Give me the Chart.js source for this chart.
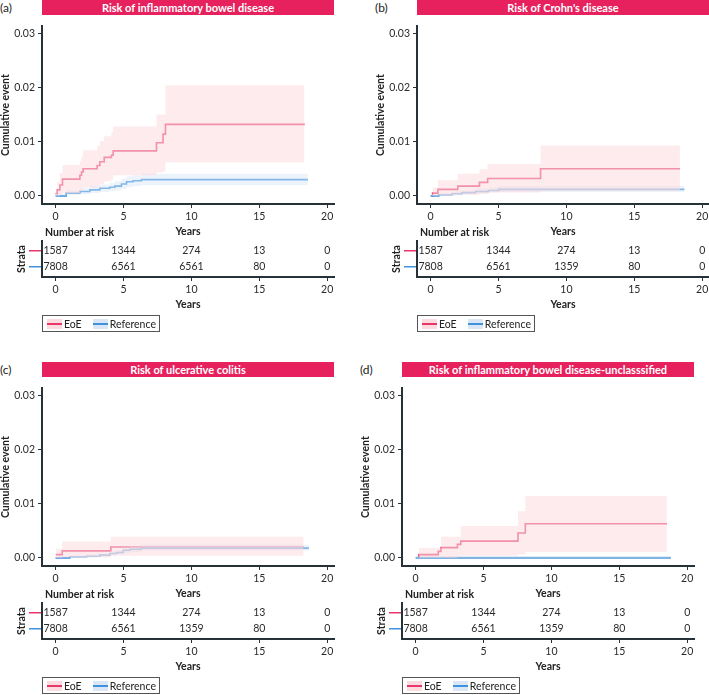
<!DOCTYPE html>
<html>
<head>
<meta charset="utf-8">
<script src="https://cdn.jsdelivr.net/npm/chart.js@4.4.1/dist/chart.umd.min.js"></script>
<style>
body{margin:0;background:#fff;font-family:Lato,sans-serif;}
#fig{position:relative;width:709px;height:695px;overflow:hidden;}
.tag{position:absolute;font-size:12px;line-height:15px;color:#222;}
.bar{position:absolute;width:292px;height:15px;line-height:15px;background:#e6215d;color:#fff;font-weight:bold;font-size:11px;text-align:center;white-space:nowrap;}
canvas{position:absolute;}
.nar{position:absolute;font-weight:bold;font-size:10.5px;line-height:12px;color:#222;}
.leg{position:absolute;height:15px;border:1px solid #555;display:flex;align-items:center;font-size:10.5px;color:#222;padding:0 3px 0 4px;white-space:nowrap;}
.sw{display:inline-block;width:15px;height:10px;margin-right:2px;}
</style>
</head>
<body>
<div id="fig"></div>
<script>
// shared axes / groups
const xTicks = [0, 5, 10, 15, 20];
const yTicks = [0, 0.01, 0.02, 0.03];
const groups = ['EoE', 'Reference'];
const riskTimes = [0, 5, 10, 15, 20];

// (a) inflammatory bowel disease
const ibdEoeT  = [0, 0.12, 0.32, 0.51, 1.79, 1.91, 2.03, 3.06, 3.26, 3.58, 4.11, 4.24, 7.43, 7.91, 8.09, 18.33];
const ibdEoeV  = [0.0004, 0.0011, 0.002, 0.0031, 0.0038, 0.0044, 0.005, 0.0056, 0.0063, 0.0071, 0.0075, 0.0083, 0.0098, 0.0114, 0.0132, 0.0132];
const ibdEoeLo = [0, 0, 0.0002, 0.0005, 0.0009, 0.0012, 0.0015, 0.0018, 0.0022, 0.0027, 0.003, 0.0038, 0.0043, 0.0045, 0.0062, 0.0062];
const ibdEoeHi = [0.0012, 0.0025, 0.0042, 0.0057, 0.0064, 0.0072, 0.0084, 0.0092, 0.0101, 0.011, 0.0118, 0.0128, 0.015, 0.015, 0.0204, 0.0204];
const ibdRefT  = [0, 0.78, 1.79, 2.52, 3.26, 3.99, 4.36, 4.85, 5.22, 5.7, 6.32, 18.57];
const ibdRefV  = [0, 0.0005, 0.0008, 0.0011, 0.0014, 0.0016, 0.0018, 0.0022, 0.0026, 0.0028, 0.003, 0.003];
const ibdRefLo = [0, 0.0001, 0.0003, 0.0005, 0.0007, 0.0009, 0.001, 0.0013, 0.0016, 0.0018, 0.002, 0.002];
const ibdRefHi = [0.0003, 0.001, 0.0014, 0.0018, 0.0021, 0.0024, 0.0027, 0.0032, 0.0036, 0.0038, 0.0041, 0.0041];
const ibdRiskEoe = [1587, 1344, 274, 13, 0];
const ibdRiskRef = [7808, 6561, 6561, 80, 0];

// (b) Crohn's disease
const cdEoeT  = [0.1, 0.15, 0.54, 2.0, 3.6, 4.2, 8.1, 18.36];
const cdEoeV  = [0, 0.0005, 0.0012, 0.0018, 0.0025, 0.0032, 0.005, 0.005];
const cdEoeLo = [0, 0, 0.0001, 0.0002, 0.0004, 0.0006, 0.0009, 0.0009];
const cdEoeHi = [0.0003, 0.0015, 0.0029, 0.0041, 0.0049, 0.0059, 0.0093, 0.0093];
const cdRefT  = [0, 0.6, 1.57, 2.3, 3.3, 4.26, 5.0, 18.68];
const cdRefV  = [0, 0.0002, 0.0004, 0.0006, 0.0008, 0.001, 0.0012, 0.0012];
const cdRefLo = [0, 0, 0.0001, 0.0003, 0.0004, 0.0006, 0.0007, 0.0007];
const cdRefHi = [0.0002, 0.0005, 0.0008, 0.001, 0.0013, 0.0015, 0.0018, 0.0018];
const cdRiskEoe = [1587, 1344, 274, 13, 0];
const cdRiskRef = [7808, 6561, 1359, 80, 0];

// (c) ulcerative colitis
const ucEoeT  = [0.02, 0.49, 4.07, 18.26];
const ucEoeV  = [0.0006, 0.0013, 0.002, 0.002];
const ucEoeLo = [0, 0.0001, 0.0004, 0.0004];
const ucEoeHi = [0.0017, 0.003, 0.0039, 0.0039];
const ucRefT  = [0, 1.05, 2.28, 3.26, 4.0, 4.49, 4.98, 5.47, 6.32, 18.65];
const ucRefV  = [0, 0.0002, 0.0003, 0.0005, 0.0008, 0.001, 0.0014, 0.0016, 0.0018, 0.0018];
const ucRefLo = [0, 0, 0.0001, 0.0002, 0.0004, 0.0006, 0.0009, 0.0011, 0.0013, 0.0013];
const ucRefHi = [0.0002, 0.0004, 0.0006, 0.0008, 0.0012, 0.0014, 0.0019, 0.0021, 0.0024, 0.0024];
const ucRiskEoe = [1587, 1344, 274, 13, 0];
const ucRiskRef = [7808, 6561, 1359, 80, 0];

// (d) IBD-unclassified
const ibduEoeT  = [0.2, 0.25, 1.67, 1.87, 3.08, 3.33, 7.54, 8.08, 18.5];
const ibduEoeV  = [0, 0.0006, 0.0012, 0.0019, 0.0025, 0.0031, 0.0046, 0.0063, 0.0063];
const ibduEoeLo = [0, 0, 0, 0, 0.0002, 0.0004, 0.0006, 0.0011, 0.0011];
const ibduEoeHi = [0, 0.0018, 0.0018, 0.0039, 0.0039, 0.0059, 0.0086, 0.0114, 0.0114];
const ibduRefT  = [0, 18.8];
const ibduRefV  = [0, 0];
const ibduRefLo = [0, 0];
const ibduRefHi = [0, 0];
const ibduRiskEoe = [1587, 1344, 274, 13, 0];
const ibduRiskRef = [7808, 6561, 1359, 80, 0];

const AXIS = '#263238';
const RED = '#e8366b', BLUE = '#3f92db';
const RED_BAND = 'rgba(252,218,222,0.55)', BLUE_BAND = 'rgba(215,228,246,0.45)';

Chart.defaults.font.family = 'Lato';
Chart.defaults.color = '#2a2a2a';

const panels = [
  {tag: '(a)', title: 'Risk of inflammatory bowel disease', L: 42, T: 0,
   eoe: [ibdEoeT, ibdEoeV, ibdEoeLo, ibdEoeHi], ref: [ibdRefT, ibdRefV, ibdRefLo, ibdRefHi], risk: [ibdRiskEoe, ibdRiskRef]},
  {tag: '(b)', title: "Risk of Crohn's disease", L: 417, T: 0,
   eoe: [cdEoeT, cdEoeV, cdEoeLo, cdEoeHi], ref: [cdRefT, cdRefV, cdRefLo, cdRefHi], risk: [cdRiskEoe, cdRiskRef]},
  {tag: '(c)', title: 'Risk of ulcerative colitis', L: 42, T: 362,
   eoe: [ucEoeT, ucEoeV, ucEoeLo, ucEoeHi], ref: [ucRefT, ucRefV, ucRefLo, ucRefHi], risk: [ucRiskEoe, ucRiskRef]},
  {tag: '(d)', title: 'Risk of inflammatory bowel disease-unclasssified', L: 402, T: 362,
   eoe: [ibduEoeT, ibduEoeV, ibduEoeLo, ibduEoeHi], ref: [ibduRefT, ibduRefV, ibduRefLo, ibduRefHi], risk: [ibduRiskEoe, ibduRiskRef], refWidth: 2.2}
];

const fig = document.getElementById('fig');

function el(tag, cls, css, text) {
  const e = document.createElement(tag);
  if (cls) e.className = cls;
  Object.assign(e.style, css);
  if (text != null) e.textContent = text;
  fig.appendChild(e);
  return e;
}

const pts = (xs, ys) => xs.map((x, i) => ({x: x, y: ys[i]}));

const fixTicks = vals => s => { s.ticks = vals.map(v => ({value: v})); };

function kmSets(p) {
  const none = 'rgba(0,0,0,0)';
  const band = (data, fill, bg) => ({data, fill, backgroundColor: bg, borderColor: none, borderWidth: 0, stepped: true, pointRadius: 0});
  return [
    band(pts(p.eoe[0], p.eoe[3]), 1, RED_BAND),
    band(pts(p.eoe[0], p.eoe[2]), false, none),
    band(pts(p.ref[0], p.ref[3]), 3, BLUE_BAND),
    band(pts(p.ref[0], p.ref[2]), false, none),
    {label: groups[1], data: pts(p.ref[0], p.ref[1]), borderColor: p.refWidth ? '#80b4e3' : BLUE, borderWidth: p.refWidth || 1.6, stepped: true, pointRadius: 0, fill: false},
    {label: groups[0], data: pts(p.eoe[0], p.eoe[1]), borderColor: RED, borderWidth: 1.6, stepped: true, pointRadius: 0, fill: false}
  ];
}

// writes the numbers at risk where each point sits on the table scales
const riskText = {
  id: 'riskText',
  afterDatasetsDraw(chart) {
    const ctx = chart.ctx;
    ctx.save();
    ctx.font = '10.5px Lato';
    ctx.fillStyle = '#2a2a2a';
    ctx.textAlign = 'center';
    ctx.textBaseline = 'middle';
    chart.data.datasets.forEach((ds, di) => {
      chart.getDatasetMeta(di).data.forEach((pt, i) => {
        ctx.fillText(String(ds.data[i].n), pt.x, pt.y);
      });
    });
    ctx.restore();
  }
};

panels.forEach(p => {
  const L = p.L, T = p.T;
  el('div', 'tag', {left: (L - 42) + 'px', top: T + 'px'}, p.tag);
  el('div', 'bar', {left: L + 'px', top: T + 'px'}, p.title);

  // survival curves
  const c1 = el('canvas', null, {left: (L - 42) + 'px', top: (T + 17) + 'px'});
  c1.width = 340; c1.height = 221;
  new Chart(c1, {
    type: 'line',
    data: {datasets: kmSets(p)},
    options: {
      responsive: false, animation: false, devicePixelRatio: 1,
      layout: {padding: {top: 5, right: 6, left: 0, bottom: 0}},
      plugins: {legend: {display: false}, tooltip: {enabled: false}},
      scales: {
        x: {
          type: 'linear', min: -1, max: 20.5,
          afterBuildTicks: fixTicks(xTicks),
          afterFit: s => { s.height = 34; },
          grid: {drawOnChartArea: false, tickLength: 4, color: AXIS},
          border: {color: AXIS, width: 2},
          ticks: {padding: 2, font: {size: 10.5}},
          title: {display: true, text: 'Years', padding: 0, color: '#222', font: {size: 10.5, weight: 'bold'}}
        },
        y: {
          min: -0.0015, max: 0.0313,
          afterBuildTicks: fixTicks(yTicks),
          afterFit: s => { s.width = 42; },
          grid: {drawOnChartArea: false, tickLength: 4, color: AXIS},
          border: {color: AXIS, width: 2},
          ticks: {padding: 3, font: {size: 10.5}, callback: v => v.toFixed(2)},
          title: {display: true, text: 'Cumulative event', padding: 0, color: '#222', font: {size: 10.5, weight: 'bold', lineHeight: 1.1}}
        }
      }
    }
  });

  el('div', 'nar', {left: (L + 3) + 'px', top: (T + 226) + 'px'}, 'Number at risk');

  // number-at-risk table
  const c2 = el('canvas', null, {left: (L - 42) + 'px', top: (T + 236) + 'px'});
  c2.width = 340; c2.height = 77;
  new Chart(c2, {
    type: 'scatter',
    data: {datasets: groups.map((g, r) => ({
      label: g, pointRadius: 0,
      data: riskTimes.map((t, i) => ({x: t, y: r, n: p.risk[r][i]}))
    }))},
    options: {
      responsive: false, animation: false, devicePixelRatio: 1,
      layout: {padding: {top: 5, right: 6, left: 0, bottom: 0}},
      plugins: {legend: {display: false}, tooltip: {enabled: false}},
      scales: {
        x: {
          type: 'linear', min: -1, max: 20.5,
          afterBuildTicks: fixTicks(xTicks),
          afterFit: s => { s.height = 36; },
          grid: {drawOnChartArea: false, tickLength: 4, color: AXIS},
          border: {color: AXIS, width: 2},
          ticks: {padding: 2, font: {size: 10.5}},
          title: {display: true, text: 'Years', padding: {top: 0, bottom: 2}, color: '#222', font: {size: 10.5, weight: 'bold'}}
        },
        y: {
          type: 'linear', reverse: true, min: -0.64, max: 1.65,
          afterBuildTicks: fixTicks([0, 1]),
          afterFit: s => { s.width = 42; },
          grid: {drawOnChartArea: false, tickLength: 13, lineWidth: 1.5, color: c => [RED, BLUE][c.index]},
          border: {color: AXIS, width: 2},
          ticks: {display: false},
          title: {display: true, text: 'Strata', padding: {top: 15, bottom: 0}, color: '#222', font: {size: 10.5, weight: 'bold'}}
        }
      }
    },
    plugins: [riskText]
  });

  // legend
  const leg = el('div', 'leg', {left: L + 'px', top: (T + 315) + 'px'});
  [[RED, 'rgba(252,215,220,0.9)'], [BLUE, 'rgba(215,228,246,0.9)']].forEach((c, i) => {
    const sw = document.createElement('span');
    sw.className = 'sw';
    sw.style.background = 'linear-gradient(to bottom,' + c[1] + ' 0 4px,' + c[0] + ' 4px 6px,' + c[1] + ' 6px)';
    if (i) sw.style.marginLeft = '11px';
    leg.appendChild(sw);
    leg.appendChild(document.createTextNode(groups[i]));
  });
});
</script>
</body>
</html>
